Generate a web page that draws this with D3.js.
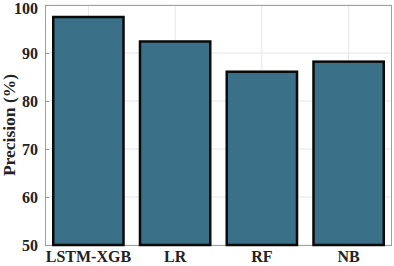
<!DOCTYPE html>
<html><head><meta charset="utf-8">
<script src="https://cdn.jsdelivr.net/npm/d3@7"></script>
<style>body{margin:0;background:#fff}svg{display:block}</style>
</head><body>
<script>
const categories = ["LSTM-XGB","LR","RF","NB"];
const values = [97.5, 92.4, 86.1, 88.2];
const yTicks = [50,60,70,80,90,100];

const W=394,H=266, m={l:45,r:2,t:5,b:21};
const svg=d3.select("body").append("svg").attr("width",W).attr("height",H);
const x=d3.scaleBand().domain(categories).range([m.l,W-m.r]).paddingInner(0.19).paddingOuter(0.095);
const y=d3.scaleLinear().domain([50,100]).range([H-m.b,m.t]);
const font="'Liberation Serif','Times New Roman',serif";

// grid
svg.append("g").selectAll("line").data(yTicks).join("line")
 .attr("x1",m.l).attr("x2",W-m.r).attr("y1",d=>y(d)).attr("y2",d=>y(d))
 .attr("stroke","#e6e6e6").attr("stroke-width",1);
svg.append("g").selectAll("line").data(categories).join("line")
 .attr("x1",d=>x(d)+x.bandwidth()/2).attr("x2",d=>x(d)+x.bandwidth()/2)
 .attr("y1",m.t).attr("y2",H-m.b).attr("stroke","#e6e6e6").attr("stroke-width",1);

// box
svg.append("rect").attr("x",m.l+0.5).attr("y",m.t+0.5).attr("width",W-m.r-m.l-1).attr("height",H-m.b-m.t)
 .attr("fill","none").attr("stroke","#a0a0a0").attr("stroke-width",1);

// bars
svg.append("g").selectAll("rect").data(values).join("rect")
 .attr("x",(d,i)=>x(categories[i])).attr("width",x.bandwidth())
 .attr("y",d=>y(d)).attr("height",d=>y(50)-y(d))
 .attr("fill","#3a7088").attr("stroke","#0a0a0a").attr("stroke-width",2.5);

// axes
const ya=svg.append("g").attr("transform",`translate(${m.l},0)`)
 .call(d3.axisLeft(y).tickValues(yTicks).tickSize(-4).tickPadding(7));
ya.select(".domain").remove();
ya.selectAll("line").attr("stroke","#999");
ya.selectAll("text").attr("font-family",font).attr("font-weight","bold").attr("font-size",16).attr("fill","#222")
 .attr("dy",d=>d===100?"0.55em":"0.32em");

const xa=svg.append("g").attr("transform",`translate(0,${H-m.b})`)
 .call(d3.axisBottom(x).tickSize(0).tickPadding(6));
xa.select(".domain").remove();
xa.selectAll("text").attr("font-family",font).attr("font-weight","bold").attr("font-size",16).attr("fill","#222");

svg.append("text").attr("transform",`translate(15,${(m.t+H-m.b)/2}) rotate(-90)`)
 .attr("text-anchor","middle").attr("font-family",font).attr("font-weight","bold").attr("font-size",17.5).attr("fill","#222")
 .text("Precision (%)");
</script>
</body></html>
